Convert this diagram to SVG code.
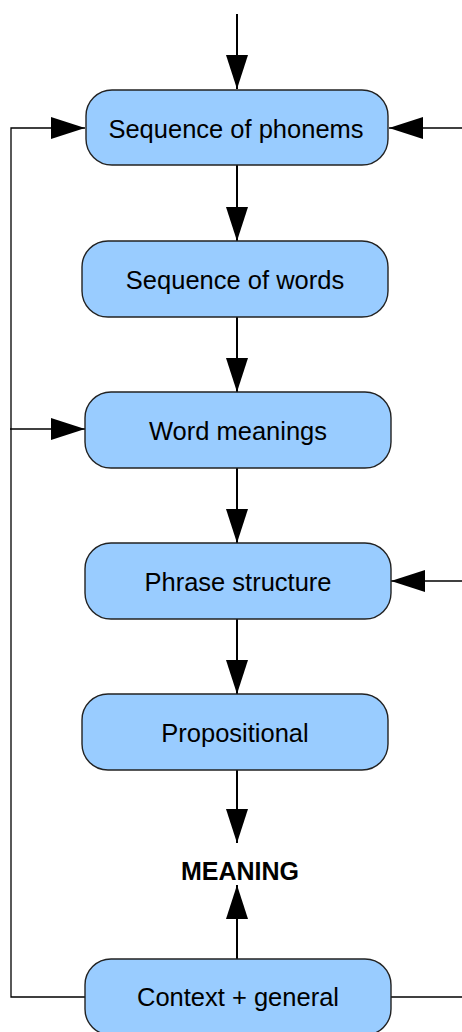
<svg xmlns="http://www.w3.org/2000/svg" width="462" height="1032" viewBox="0 0 462 1032">
<style>
.box{fill:#99ccff;stroke:#222;stroke-width:1.4}
.lbl{font-family:"Liberation Sans",Arial,sans-serif;font-size:25.5px;fill:#000;text-anchor:middle}
.bold{font-family:"Liberation Sans",Arial,sans-serif;font-size:25px;font-weight:bold;fill:#000;text-anchor:middle}
.main{fill:none;stroke:#000;stroke-width:2}
.fb{fill:none;stroke:#000;stroke-width:1.3}
</style>
<defs>
<marker id="ah" markerUnits="userSpaceOnUse" markerWidth="34" markerHeight="22" refX="34" refY="11" orient="auto" viewBox="0 0 34 22">
<path d="M0,0 L34,11 L0,22 z" fill="#000"/>
</marker>
</defs>
<rect width="462" height="1032" fill="#fff"/>
<g id="connectors">
<line class="main" x1="237" y1="14" x2="237" y2="89" marker-end="url(#ah)"/>
<line class="main" x1="237" y1="165" x2="237" y2="241" marker-end="url(#ah)"/>
<line class="main" x1="237" y1="317" x2="237" y2="392" marker-end="url(#ah)"/>
<line class="main" x1="237" y1="468" x2="237" y2="543" marker-end="url(#ah)"/>
<line class="main" x1="237" y1="619" x2="237" y2="694" marker-end="url(#ah)"/>
<line class="main" x1="237" y1="770" x2="237" y2="843" marker-end="url(#ah)"/>
<line class="main" x1="237" y1="959" x2="237" y2="885" marker-end="url(#ah)"/>
<polyline class="fb" points="85,997 11,997 11,128 85,128" marker-end="url(#ah)"/>
<line class="fb" x1="10" y1="429" x2="85" y2="429" marker-end="url(#ah)"/>
<line class="fb" x1="462" y1="128" x2="389" y2="128" marker-end="url(#ah)"/>
<line class="fb" x1="462" y1="581" x2="391" y2="581" marker-end="url(#ah)"/>
<line class="fb" x1="391" y1="997" x2="462" y2="997"/>
</g>
<g id="n1"><rect class="box" x="86" y="90" width="302" height="75" rx="26"/><text class="lbl" x="236" y="138">Sequence of phonems</text></g>
<g id="n2"><rect class="box" x="82" y="241" width="306" height="76" rx="26"/><text class="lbl" x="235" y="289">Sequence of words</text></g>
<g id="n3"><rect class="box" x="85" y="392" width="306" height="76" rx="26"/><text class="lbl" x="238" y="440">Word meanings</text></g>
<g id="n4"><rect class="box" x="85" y="543" width="306" height="76" rx="26"/><text class="lbl" x="238" y="591">Phrase structure</text></g>
<g id="n5"><rect class="box" x="82" y="694" width="306" height="76" rx="26"/><text class="lbl" x="235" y="742">Propositional</text></g>
<g id="meaning"><text class="bold" x="240" y="880">MEANING</text></g>
<g id="n6"><rect class="box" x="85" y="959" width="306" height="76" rx="26"/><text class="lbl" x="238" y="1006">Context + general</text></g>
</svg>
